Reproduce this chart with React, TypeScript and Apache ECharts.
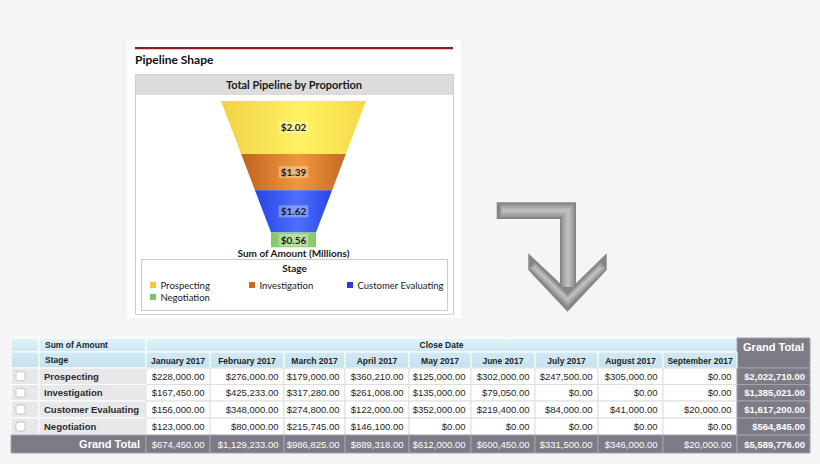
import React, { useEffect, useRef } from "react";
import * as echarts from "echarts";

// ---------- data ----------
const stages = ["Prospecting", "Investigation", "Customer Evaluating", "Negotiation"];
const months = [
  "January 2017", "February 2017", "March 2017", "April 2017", "May 2017",
  "June 2017", "July 2017", "August 2017", "September 2017",
];
const prospecting = [228000, 276000, 179000, 360210, 125000, 302000, 247500, 305000, 0];
const investigation = [167450, 425233, 317280, 261008, 135000, 79050, 0, 0, 0];
const customerEvaluating = [156000, 348000, 274800, 122000, 352000, 219400, 84000, 41000, 20000];
const negotiation = [123000, 80000, 215745, 146100, 0, 0, 0, 0, 0];
const stageRows = [prospecting, investigation, customerEvaluating, negotiation];

// ---------- styles ----------
const legendColors = ["#f7c53c", "#cc6a1d", "#2c38ea", "#78c55c"];
const funnelStops = [
  ["#f3d046", "#fff363", "#f6d84a"],
  ["#bf631f", "#f0973e", "#c46923"],
  ["#2444e4", "#4e6efc", "#2747e8"],
  ["#86c866", "#9bd67a", "#86c866"],
];
const TABLE_FONT = "'Liberation Sans', Arial, Helvetica, sans-serif";
const LATO = "Lato, 'Open Sans', sans-serif";
const colX = [11, 39, 146, 210, 284, 345, 409, 471, 535, 598, 663, 737, 810];
const rowY = [338, 352, 368, 384.5, 401, 418, 435, 453];
const NECK = 0.31;

const sum = (a: number[]) => a.reduce((s, v) => s + v, 0);
const money = (v: number) =>
  "$" + v.toLocaleString("en-US", { minimumFractionDigits: 2, maximumFractionDigits: 2 });

function txt(text: string, x: number, y: number, o: any = {}) {
  return {
    type: "text",
    x,
    y,
    silent: true,
    z: 5,
    style: {
      text,
      fontFamily: o.family || TABLE_FONT,
      fontSize: o.size || 9.5,
      fontWeight: o.weight || "normal",
      fill: o.fill || "#1e1e1e",
      align: o.align || "left",
      verticalAlign: "middle",
    },
  };
}
function box(x: number, y: number, w: number, h: number, fill: any, stroke = "#ffffff", z = 1) {
  return {
    type: "rect",
    silent: true,
    z,
    shape: { x, y, width: w, height: h },
    style: { fill, stroke, lineWidth: 1 },
  };
}

export default function App() {
  const ref = useRef<HTMLDivElement>(null);

  useEffect(() => {
    if (!ref.current) return;
    const chart = echarts.init(ref.current, undefined, { renderer: "svg" });

    const stageTotals = stageRows.map(sum);
    const monthTotals = months.map((_, j) => sum(stageRows.map((r) => r[j])));
    const grand = sum(stageTotals);
    const neckStart = sum(stageTotals.slice(0, stageTotals.length - 1));

    let cum = 0;
    const funnelData = stageTotals.map((v, i) => {
      const d = [cum, cum + v, i];
      cum += v;
      return d;
    });

    const g: any[] = [];
    // top panel
    g.push({ type: "rect", silent: true, z: 0, shape: { x: 127, y: 40, width: 334, height: 278 }, style: { fill: "#ffffff" } });
    g.push({ type: "rect", silent: true, z: 1, shape: { x: 135, y: 47, width: 318, height: 2.2 }, style: { fill: "#8c1d1d" } });
    g.push(txt("Pipeline Shape", 135, 59, { family: LATO, size: 12, weight: "bold", fill: "#111" }));
    g.push({ type: "rect", silent: true, z: 1, shape: { x: 135.5, y: 74.5, width: 318, height: 240 }, style: { fill: "#ffffff", stroke: "#cfcfcf", lineWidth: 1 } });
    g.push({ type: "rect", silent: true, z: 1, shape: { x: 136, y: 75, width: 317, height: 20 }, style: { fill: "#dcdcdc" } });
    g.push(txt("Total Pipeline by Proportion", 294, 84.5, { family: LATO, size: 11, weight: "bold", fill: "#1a1a1a", align: "center" }));
    g.push(txt("Sum of Amount (Millions)", 293.5, 253, { family: LATO, size: 10, weight: "bold", fill: "#1a1a1a", align: "center" }));
    // legend box
    g.push({ type: "rect", silent: true, z: 1, shape: { x: 141.5, y: 259.5, width: 306, height: 51 }, style: { fill: "#ffffff", stroke: "#cccccc", lineWidth: 1 } });
    g.push(txt("Stage", 294.5, 267.5, { family: LATO, size: 10, weight: "bold", fill: "#1a1a1a", align: "center" }));
    const legPos = [[150, 285], [249, 285], [347, 285], [150, 297]];
    stages.forEach((s, i) => {
      const [lx, ly] = legPos[i];
      g.push({ type: "rect", silent: true, z: 2, shape: { x: lx, y: ly - 3, width: 6, height: 6 }, style: { fill: legendColors[i] } });
      g.push(txt(s, lx + 10.5, ly, { family: LATO, size: 9.5, fill: "#1a1a1a" }));
    });

    // arrow (bevelled)
    const arrowPts = [
      [496.7, 202.3], [576, 202.3], [576, 283.3], [606.7, 253.3], [606.7, 270],
      [567.5, 311.7], [528.3, 270], [528.3, 253.3], [560, 283.3], [560, 219], [496.7, 219],
    ];
    g.push({ type: "polygon", silent: true, z: 1, shape: { points: arrowPts }, style: { fill: "#858585" } });
    const barLayers = [[12.5, "#9a9a9a"], [9, "#a9a9a9"], [5, "#b7b7b7"], [2, "#c0c0c0"]];
    const armLayers = [[8.5, "#9a9a9a"], [6, "#a9a9a9"], [3.4, "#b7b7b7"], [1.4, "#c0c0c0"]];
    barLayers.forEach(([w, c], k) => {
      g.push({
        type: "polyline", silent: true, z: 2 + k,
        shape: { points: [[500 + k, 210.7], [568, 210.7], [568, 287]] },
        style: { stroke: c, lineWidth: w, fill: null, lineJoin: "miter", lineCap: "butt" },
      });
    });
    armLayers.forEach(([w, c], k) => {
      g.push({
        type: "polyline", silent: true, z: 2 + k,
        shape: { points: [[532 + k, 265.3 + k], [567.6, 300.8 - k * 0.5], [603.2 - k, 265.3 + k]] },
        style: { stroke: c, lineWidth: w, fill: null, lineJoin: "miter", lineCap: "butt" },
      });
    });

    // table
    const blue = (y0: number) =>
      new echarts.graphic.LinearGradient(0, 0, 0, 1, [
        { offset: 0, color: y0 === rowY[0] ? "#e2f2f9" : "#d3eaf5" },
        { offset: 1, color: y0 === rowY[0] ? "#cfe8f4" : "#c4e1ef" },
      ]);
    const gray = "#7c7b86";
    const rowHead = "#e8e8eb";
    // header row 1
    g.push(box(colX[0], rowY[0], colX[1] - colX[0], rowY[1] - rowY[0], blue(rowY[0])));
    g.push(box(colX[1], rowY[0], colX[2] - colX[1], rowY[1] - rowY[0], blue(rowY[0])));
    g.push(txt("Sum of Amount", colX[1] + 6, (rowY[0] + rowY[1]) / 2, { size: 8.5, weight: "bold" }));
    g.push(box(colX[2], rowY[0], colX[11] - colX[2], rowY[1] - rowY[0], blue(rowY[0])));
    g.push(txt("Close Date", (colX[2] + colX[11]) / 2, (rowY[0] + rowY[1]) / 2, { size: 8.5, weight: "bold", align: "center" }));
    g.push(box(colX[11], rowY[0], colX[12] - colX[11], rowY[2] - rowY[0], gray, "#a4a3ab"));
    g.push(txt("Grand Total", (colX[11] + colX[12]) / 2, 347, { size: 11, weight: "bold", fill: "#ffffff", align: "center" }));
    // header row 2
    g.push(box(colX[0], rowY[1], colX[1] - colX[0], rowY[2] - rowY[1], blue(rowY[1])));
    g.push(box(colX[1], rowY[1], colX[2] - colX[1], rowY[2] - rowY[1], blue(rowY[1])));
    g.push(txt("Stage", colX[1] + 6, (rowY[1] + rowY[2]) / 2, { size: 8.5, weight: "bold" }));
    months.forEach((m, j) => {
      g.push(box(colX[j + 2], rowY[1], colX[j + 3] - colX[j + 2], rowY[2] - rowY[1], blue(rowY[1])));
      g.push(txt(m, (colX[j + 2] + colX[j + 3]) / 2, (rowY[1] + rowY[2]) / 2 + 0.5, { size: 8.5, weight: "bold", align: "center" }));
    });
    // data rows
    stageRows.forEach((row, i) => {
      const y0 = rowY[i + 2];
      const y1 = rowY[i + 3];
      const cy = (y0 + y1) / 2;
      g.push(box(colX[0], y0, colX[1] - colX[0], y1 - y0, rowHead, "#ffffff"));
      g.push({ type: "rect", silent: true, z: 3, shape: { x: 16, y: cy - 4.5, width: 9, height: 9, r: 2 }, style: { fill: "#ffffff", stroke: "#b9b9b9", lineWidth: 0.8 } });
      g.push(box(colX[1], y0, colX[2] - colX[1], y1 - y0, rowHead, "#ffffff"));
      g.push(txt(stages[i], colX[1] + 5, cy, { size: 9.5, weight: "bold", fill: "#2a2a2a" }));
      row.forEach((v, j) => {
        g.push(box(colX[j + 2], y0, colX[j + 3] - colX[j + 2], y1 - y0, "#ffffff", "#dedede"));
        g.push(txt(money(v), colX[j + 3] - 5.5, cy, { size: 9.5, align: "right" }));
      });
      g.push(box(colX[11], y0, colX[12] - colX[11], y1 - y0, gray, "#a4a3ab"));
      g.push(txt(money(stageTotals[i]), colX[12] - 5, cy, { size: 9.5, weight: "bold", fill: "#ffffff", align: "right" }));
    });
    // total row
    {
      const y0 = rowY[6];
      const y1 = rowY[7];
      const cy = (y0 + y1) / 2;
      g.push(box(colX[0], y0, colX[2] - colX[0], y1 - y0, gray, "#a4a3ab"));
      g.push(txt("Grand Total", colX[2] - 6, cy, { size: 11, weight: "bold", fill: "#ffffff", align: "right" }));
      monthTotals.forEach((v, j) => {
        g.push(box(colX[j + 2], y0, colX[j + 3] - colX[j + 2], y1 - y0, gray, "#a4a3ab"));
        g.push(txt(money(v), colX[j + 3] - 5.5, cy, { size: 9.5, fill: "#ffffff", align: "right" }));
      });
      g.push(box(colX[11], y0, colX[12] - colX[11], y1 - y0, gray, "#a4a3ab"));
      g.push(txt(money(grand), colX[12] - 5, cy, { size: 9.5, weight: "bold", fill: "#ffffff", align: "right" }));
    }

    chart.setOption({
      animation: false,
      backgroundColor: "#f5f5f5",
      grid: { left: 221, top: 101, width: 145, height: 146.3, containLabel: false },
      xAxis: { type: "value", min: -1, max: 1, show: false },
      yAxis: { type: "value", min: 0, max: grand, inverse: true, show: false },
      graphic: { elements: g },
      series: [
        {
          type: "custom",
          z: 10,
          clip: false,
          data: funnelData,
          renderItem: (params: any, api: any) => {
            const start = api.value(0);
            const end = api.value(1);
            const idx = api.value(2);
            const hw = (c: number) => (c <= neckStart ? 1 - ((1 - NECK) * c) / neckStart : NECK);
            const pts = [
              api.coord([-hw(start), start]),
              api.coord([hw(start), start]),
              api.coord([hw(end), end]),
              api.coord([-hw(end), end]),
            ];
            const mid = api.coord([0, (start + end) / 2]);
            const st = funnelStops[idx];
            return {
              type: "group",
              children: [
                {
                  type: "polygon",
                  shape: { points: pts },
                  style: {
                    fill: new echarts.graphic.LinearGradient(0, 0, 1, 0, [
                      { offset: 0, color: st[0] },
                      { offset: 0.55, color: st[1] },
                      { offset: 1, color: st[2] },
                    ]),
                  },
                },
                {
                  type: "text",
                  x: mid[0],
                  y: mid[1],
                  style: {
                    text: "$" + (stageTotals[idx] / 1e6).toFixed(2),
                    fontFamily: LATO,
                    fontWeight: "bold",
                    fontSize: 10,
                    fill: "#1a1a1a",
                    align: "center",
                    verticalAlign: "middle",
                    backgroundColor: "rgba(255,255,255,0.32)",
                    padding: [1, 2],
                  },
                },
              ],
            };
          },
        },
      ],
    });

    return () => chart.dispose();
  }, []);

  return (
    <div
      ref={ref}
      style={{ position: "absolute", left: 0, top: 0, width: 820, height: 464 }}
    />
  );
}
